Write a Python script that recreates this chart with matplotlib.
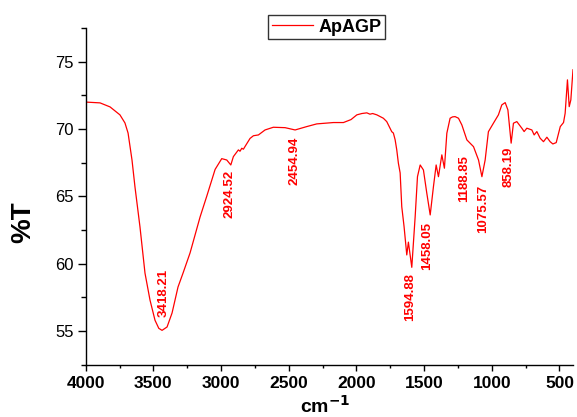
import matplotlib.pyplot as plt
from matplotlib.ticker import MultipleLocator

# FTIR spectrum of ApAGP
wavenumber = [4000, 3894, 3820, 3747, 3710, 3687, 3658, 3636, 3599, 3562,
              3525, 3488, 3460, 3436, 3399, 3362, 3318, 3281, 3229, 3155,
              3106, 3044, 2995, 2958, 2928, 2909, 2872, 2860, 2847, 2835,
              2823, 2786, 2761, 2724, 2675, 2614, 2527, 2453, 2367, 2293,
              2170, 2096, 2040, 1997, 1960, 1923, 1900, 1880, 1849, 1801,
              1776, 1739, 1727, 1714, 1702, 1690, 1677, 1665, 1648, 1628,
              1616, 1591, 1566, 1549, 1529, 1505, 1480, 1455, 1431, 1411,
              1394, 1369, 1350, 1332, 1308, 1290, 1271, 1246, 1221, 1184,
              1135, 1098, 1073, 1049, 1025, 988, 951, 926, 901, 881,
              857, 840, 815, 778, 761, 741, 704, 687, 667, 643,
              618, 593, 569, 549, 524, 494, 470, 458, 441, 428,
              416, 400]
transmittance = [72.0, 71.94, 71.64, 71.05, 70.45, 69.7, 67.7, 65.7, 62.73, 59.3,
                 57.3, 55.8, 55.2, 55.05, 55.3, 56.34, 58.27, 59.3, 60.8, 63.47,
                 65.0, 67.0, 67.8, 67.7, 67.33, 67.95, 68.45, 68.35, 68.57, 68.5,
                 68.7, 69.3, 69.5, 69.56, 69.93, 70.13, 70.1, 69.93, 70.18, 70.38,
                 70.48, 70.48, 70.7, 71.05, 71.15, 71.2, 71.1, 71.15, 71.05, 70.8,
                 70.55, 69.8, 69.7, 69.2, 68.45, 67.46, 66.74, 64.23, 62.75, 60.65,
                 61.6, 59.73, 63.5, 66.46, 67.33, 66.96, 65.23, 63.62, 65.72, 67.33,
                 66.46, 68.08, 67.09, 69.69, 70.8, 70.9, 70.92, 70.8, 70.3, 69.19,
                 68.69, 67.7, 66.46, 67.7, 69.8, 70.43, 71.05, 71.79, 71.96, 71.42,
                 68.95, 70.43, 70.55, 70.06, 69.81, 70.06, 69.93, 69.56, 69.81, 69.32,
                 69.06, 69.39, 69.06, 68.89, 68.99, 70.18, 70.48, 71.17, 73.65, 71.66,
                 72.16, 74.4]

peak_labels = ['3418.21', '2924.52', '2454.94', '1594.88', '1458.05',
               '1188.85', '1075.57', '858.19']
label_x = [3425, 2934, 2461, 1600, 1481, 1204, 1067, 879]
label_y = [59.6, 66.96, 69.41, 59.3, 63.1, 68.08, 65.85, 68.67]

plt.rcParams['font.family'] = ['Liberation Sans', 'DejaVu Sans']

fig = plt.figure(figsize=(5.77, 4.17), dpi=100)
ax = fig.add_axes([85.7 / 577, 1 - 364.7 / 417, (573 - 85.7) / 577, (364.7 - 28) / 417])

ax.plot(wavenumber, transmittance, color='red', lw=0.9, label='ApAGP')

for txt, x, y in zip(peak_labels, label_x, label_y):
    ax.text(x, y, txt, rotation=90, ha='center', va='top', color='red',
            fontsize=9.5, fontweight='bold',
            family=['Liberation Sans Narrow', 'Liberation Sans'])

ax.set_xlim(4000, 400)
ax.set_ylim(52.5, 77.5)

ax.spines['top'].set_visible(False)
ax.spines['right'].set_visible(False)
ax.spines['left'].set_linewidth(1.0)
ax.spines['bottom'].set_linewidth(1.0)

ax.xaxis.set_major_locator(MultipleLocator(500))
ax.xaxis.set_minor_locator(MultipleLocator(250))
ax.yaxis.set_major_locator(MultipleLocator(5))
ax.yaxis.set_minor_locator(MultipleLocator(2.5))

ax.tick_params(axis='x', which='major', length=4, width=1, pad=4, labelsize=12.5)
ax.tick_params(axis='x', which='minor', length=2.5, width=1)
ax.tick_params(axis='y', which='major', length=5.5, width=1, pad=3, labelsize=12)
ax.tick_params(axis='y', which='minor', length=3.5, width=1)
for lab in ax.get_xticklabels():
    lab.set_fontweight('bold')

fig.text(23 / 577, 1 - 222 / 417, '%T', rotation=90, ha='center', va='center',
         fontsize=20, fontweight='bold')
fig.text(325 / 577, 4 / 417, r'cm$^{\mathbf{-1}}$', ha='center', va='baseline',
         fontsize=14, fontweight='bold')

leg = ax.legend(loc='upper left', bbox_to_anchor=(268 / 577, 1 - 15 / 417),
                bbox_transform=fig.transFigure, frameon=True, fancybox=False,
                prop={'weight': 'bold', 'size': 13}, handlelength=2.3,
                borderpad=0.2, borderaxespad=0, handletextpad=0.3)
leg.get_frame().set_edgecolor('black')
leg.get_frame().set_linewidth(1.0)

plt.savefig('out.png', dpi=100)
